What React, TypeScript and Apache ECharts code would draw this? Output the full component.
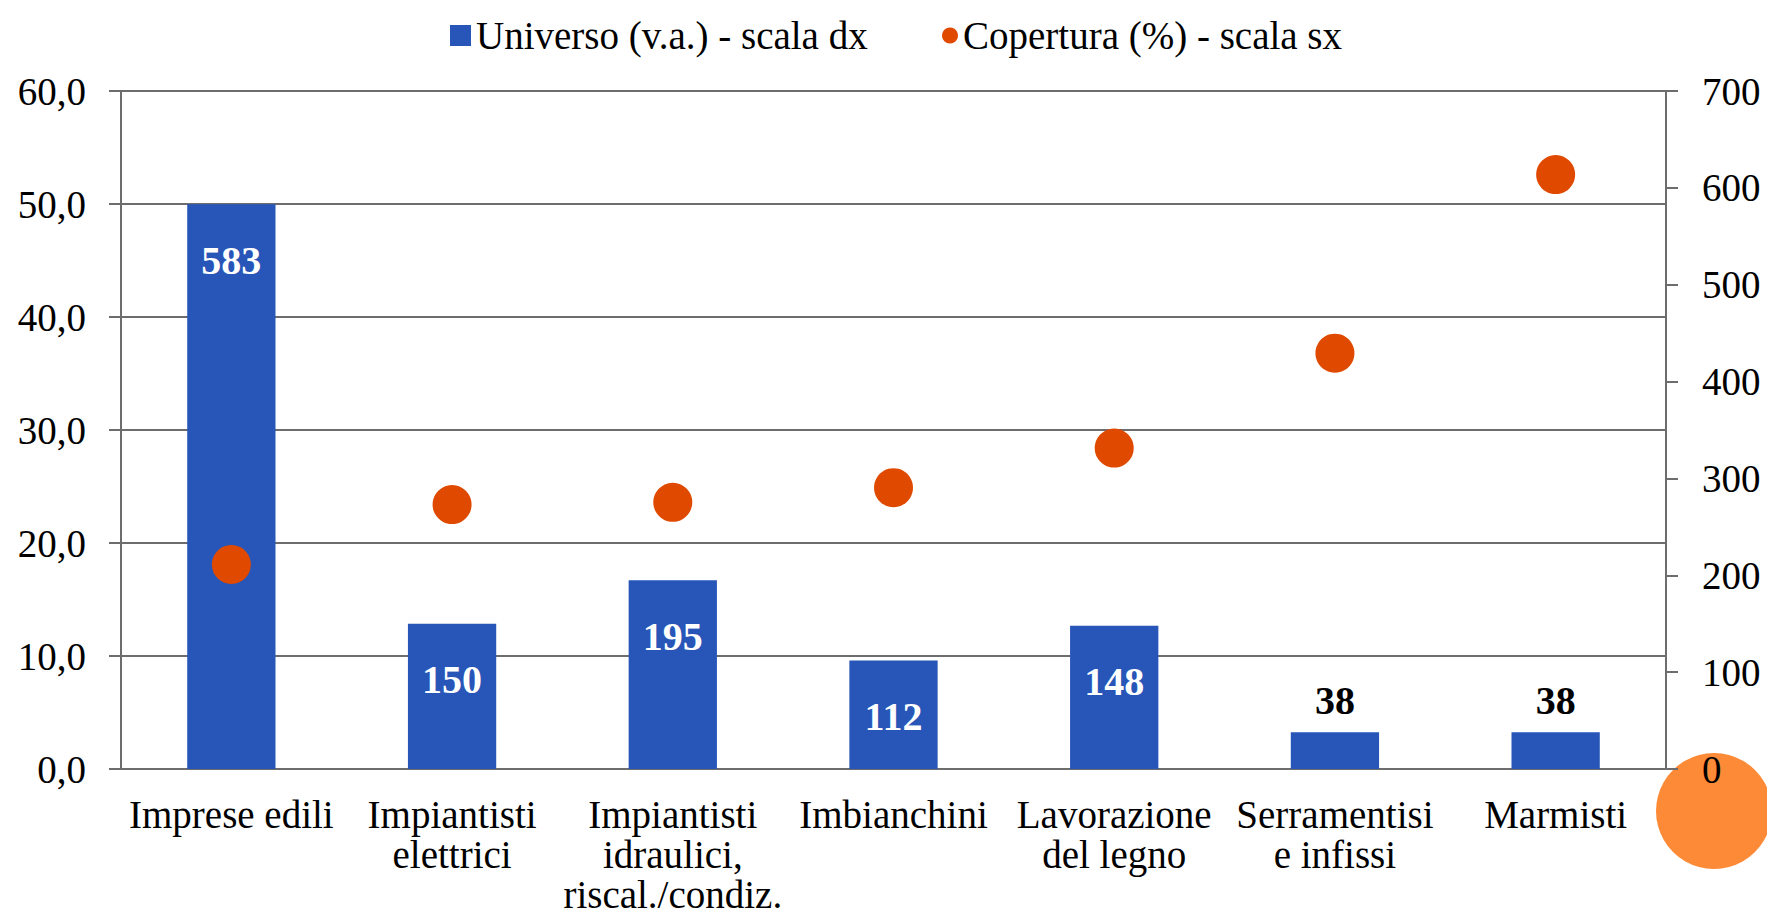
import React, { useEffect, useRef } from "react";
import * as echarts from "echarts";

const categories = [
  "Imprese edili",
  "Impiantisti\nelettrici",
  "Impiantisti\nidraulici,\nriscal./condiz.",
  "Imbianchini",
  "Lavorazione\ndel legno",
  "Serramentisi\ne infissi",
  "Marmisti",
];
const universo = [583, 150, 195, 112, 148, 38, 38];
const copertura = [18.1, 23.4, 23.6, 24.9, 28.4, 36.8, 52.6];
const seriesNames = ["Universo (v.a.) - scala dx", "Copertura (%) - scala sx"];

const FONT = "'Liberation Serif', 'Times New Roman', serif";
const GRID_COLOR = "#6d6d6d";
const BAR_COLOR = "#2756b8";
const DOT_COLOR = "#e04a00";

export default function App() {
  const ref = useRef<HTMLDivElement>(null);

  useEffect(() => {
    document.body.style.margin = "0";
    document.body.style.overflow = "hidden";
    const chart = echarts.init(ref.current as HTMLDivElement, null, { renderer: "svg" });

    const barData = universo.map((v) =>
      v < 60
        ? { value: v, label: { position: "top", distance: 12, color: "#000" } }
        : v
    );

    chart.setOption({
      animation: false,
      backgroundColor: "#ffffff",
      textStyle: { fontFamily: FONT },
      legend: [
        {
          data: [{ name: seriesNames[0], icon: "rect" }],
          left: 445,
          top: 11,
          itemWidth: 21,
          itemHeight: 21,
          textStyle: { fontFamily: FONT, fontSize: 39, color: "#000" },
        },
        {
          data: [{ name: seriesNames[1], icon: "circle" }],
          left: 937,
          top: 11,
          itemWidth: 16,
          itemHeight: 16,
          textStyle: { fontFamily: FONT, fontSize: 39, color: "#000" },
        },
      ],
      grid: { left: 121, right: 101, top: 91, bottom: 142, containLabel: false },
      xAxis: {
        type: "category",
        data: categories,
        axisLine: { show: true, lineStyle: { color: GRID_COLOR, width: 2 } },
        axisTick: { show: false },
        axisLabel: {
          interval: 0,
          fontFamily: FONT,
          fontSize: 39,
          lineHeight: 40,
          color: "#000",
          margin: 25,
        },
      },
      yAxis: [
        {
          type: "value",
          min: 0,
          max: 60,
          interval: 10,
          position: "left",
          axisLine: { show: true, lineStyle: { color: GRID_COLOR, width: 2 } },
          axisTick: { show: true, inside: false, length: 12, lineStyle: { color: GRID_COLOR, width: 2 } },
          splitLine: { show: true, lineStyle: { color: GRID_COLOR, width: 2 } },
          axisLabel: {
            fontFamily: FONT,
            fontSize: 39,
            color: "#000",
            margin: 35,
            formatter: (v: number) => v.toFixed(1).replace(".", ","),
          },
        },
        {
          type: "value",
          min: 0,
          max: 700,
          interval: 100,
          position: "right",
          axisLine: { show: true, lineStyle: { color: GRID_COLOR, width: 2 } },
          axisTick: { show: true, inside: false, length: 12, lineStyle: { color: GRID_COLOR, width: 2 } },
          splitLine: { show: false },
          axisLabel: {
            fontFamily: FONT,
            fontSize: 39,
            color: "#000",
            margin: 36,
          },
        },
      ],
      graphic: {
        elements: [
          {
            type: "circle",
            z: -10,
            shape: { cx: 1714, cy: 811, r: 58 },
            style: { fill: "#fd8a37" },
          },
        ],
      },
      series: [
        {
          name: seriesNames[0],
          type: "bar",
          yAxisIndex: 1,
          barWidth: "40%",
          data: barData,
          itemStyle: { color: BAR_COLOR },
          label: {
            show: true,
            position: "insideTop",
            distance: 36,
            color: "#fff",
            fontFamily: FONT,
            fontWeight: "bold",
            fontSize: 40,
          },
        },
        {
          name: seriesNames[1],
          type: "scatter",
          yAxisIndex: 0,
          symbol: "circle",
          symbolSize: 39,
          data: copertura,
          itemStyle: { color: DOT_COLOR, opacity: 1 },
        },
      ],
    });

    return () => chart.dispose();
  }, []);

  return <div ref={ref} style={{ width: 1767, height: 914 }} />;
}
